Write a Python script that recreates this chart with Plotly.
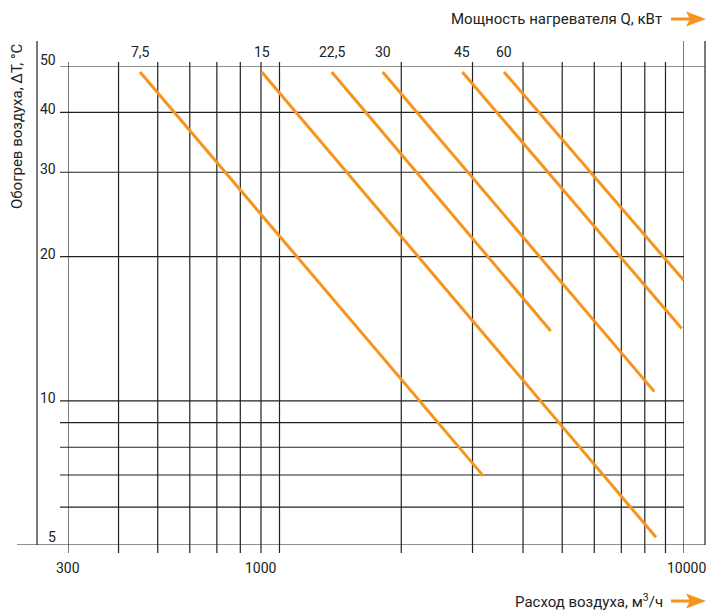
import math
import plotly.graph_objects as go

# Heater power lines: label, air flow (m3/h) and temperature rise (°C) at both ends
power_labels = ["7,5", "15", "22,5", "30", "45", "60"]
flow_start = [452, 904, 1346, 1799, 2831, 3589]
dt_start = [48.6, 48.6, 48.6, 48.6, 48.6, 48.6]
flow_end = [3190, 8527, 4683, 8445, 9870, 9982]
dt_end = [6.97, 5.19, 13.99, 10.45, 14.15, 17.85]

# Grid and tick values
grid_x = [300, 400, 500, 600, 700, 800, 900, 1000,
          2000, 3000, 4000, 5000, 6000, 7000, 8000, 9000, 10000]
grid_y = [5, 6, 7, 8, 9, 10, 20, 30, 40, 50]
x_tick_vals = [300, 1000, 10000]
x_tick_text = ["300", "1000", "10000"]
y_tick_vals = [5, 10, 20, 30, 40, 50]
y_tick_text = ["5", "10", "20", "30", "40", "50"]

W, H = 706, 610
L, R, T, B = 68, 22, 66, 65
PW, PH = W - L - R, H - T - B

ORANGE = "#F7941D"
GRID = "#222222"
FONT = "Roboto"


def px(xp):
    return (xp - L) / PW


def py(yp):
    return (H - B - yp) / PH


fig = go.Figure()

for lab, x0, y0, x1, y1 in zip(power_labels, flow_start, dt_start, flow_end, dt_end):
    fig.add_trace(go.Scatter(
        x=[x0, x1], y=[y0, y1], mode="lines", name=lab,
        line=dict(color=ORANGE, width=3), hoverinfo="skip", showlegend=False,
    ))

shapes = []
# vertical grid lines, extending a little past the plot as ticks
for v in grid_x:
    top = py(41) if v == grid_x[-1] else py(62)
    shapes.append(dict(type="line", xref="x", yref="paper", x0=v, x1=v,
                       y0=py(553), y1=top, line=dict(color=GRID, width=1.2),
                       layer="below"))
# horizontal grid lines
for v in grid_y:
    x0 = px(17) if v == grid_y[0] else px(60)
    x1 = px(705) if v in (grid_y[0], grid_y[-1]) else 1
    shapes.append(dict(type="line", xref="paper", yref="y", x0=x0, x1=x1,
                       y0=v, y1=v, line=dict(color=GRID, width=1.2),
                       layer="below"))
# outer frame lines
for xf in (37, 705):
    shapes.append(dict(type="line", xref="paper", yref="paper", x0=px(xf), x1=px(xf),
                       y0=py(545), y1=py(41), line=dict(color=GRID, width=1.2)))


# orange arrows next to the axis titles
def arrow(yc):
    shapes.append(dict(type="line", xref="paper", yref="paper",
                       x0=px(671), x1=px(690), y0=py(yc), y1=py(yc),
                       line=dict(color=ORANGE, width=3)))
    path = "M {a},{b} L {c},{d} L {e},{f} L {g},{d} Z".format(
        a=px(686), b=py(yc - 7.5), c=px(706), d=py(yc),
        e=px(686), f=py(yc + 7.5), g=px(690))
    shapes.append(dict(type="path", xref="paper", yref="paper", path=path,
                       fillcolor=ORANGE, line=dict(color=ORANGE, width=0)))


arrow(19)
arrow(601)

ann = []
tick_font = dict(family=FONT, size=14, color="#222222")
x_shift = {300: 0, 1000: -19, 10000: 2}
for v, t in zip(x_tick_vals, x_tick_text):
    ann.append(dict(x=math.log10(v), y=py(568), xref="x", yref="paper", text=t,
                    showarrow=False, xanchor="center", yanchor="middle",
                    xshift=x_shift[v], font=tick_font))
y_shift = {50: 6, 5: 8}
for v, t in zip(y_tick_vals, y_tick_text):
    ann.append(dict(x=px(58), y=math.log10(v), xref="paper", yref="y", text=t,
                    showarrow=False, xanchor="right", yanchor="middle",
                    yshift=y_shift.get(v, 3), font=tick_font))
for lab, x0 in zip(power_labels, flow_start):
    ann.append(dict(x=math.log10(x0), y=py(52), xref="x", yref="paper", text=lab,
                    showarrow=False, xanchor="center", yanchor="middle",
                    font=tick_font))

title_font = dict(family=FONT, size=15, color="#222222")
ann.append(dict(x=px(664), y=py(19), xref="paper", yref="paper",
                text="Мощность нагревателя Q, кВт", showarrow=False,
                xanchor="right", yanchor="middle", font=title_font))
ann.append(dict(x=px(665), y=py(601), xref="paper", yref="paper",
                text="Расход воздуха, м<sup>3</sup>/ч", showarrow=False,
                xanchor="right", yanchor="middle", font=title_font))
ann.append(dict(x=px(17), y=py(126), xref="paper", yref="paper",
                text="Обогрев воздуха, ΔT, °C", showarrow=False, textangle=-90,
                xanchor="center", yanchor="middle", font=title_font))

fig.update_layout(
    width=W, height=H,
    margin=dict(l=L, r=R, t=T, b=B, pad=0),
    paper_bgcolor="white", plot_bgcolor="white",
    xaxis=dict(type="log", range=[math.log10(300), 4], showgrid=False,
               zeroline=False, showline=False, showticklabels=False, ticks=""),
    yaxis=dict(type="log", range=[math.log10(5), math.log10(50)], showgrid=False,
               zeroline=False, showline=False, showticklabels=False, ticks=""),
    shapes=shapes, annotations=ann, showlegend=False,
)

fig.write_html("out.html", config={"displayModeBar": False})
